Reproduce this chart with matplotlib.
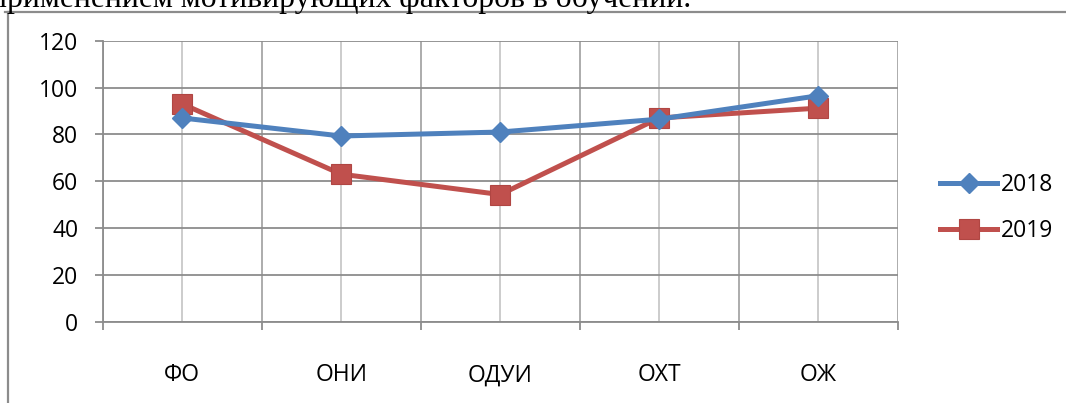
import matplotlib
matplotlib.use("Agg")
import matplotlib.pyplot as plt
from matplotlib.lines import Line2D
from matplotlib.ticker import FixedLocator

plt.rcParams["font.family"] = ["Open Sans", "DejaVu Sans"]

categories = ["ФО", "ОНИ", "ОДУИ", "ОХТ", "ОЖ"]
values_2018 = [87, 79.3, 81, 86.5, 96.5]
values_2019 = [93, 63, 54.3, 87, 91.2]
y_ticks = [0, 20, 40, 60, 80, 100, 120]

blue = "#4f81bd"
red = "#c0504d"
W, H = 1066, 403

fig = plt.figure(figsize=(W / 100, H / 100), dpi=100)

# chart frame (only left and top edges are visible in the crop)
fig.add_artist(Line2D([8.3 / W, 8.3 / W], [0, 1 - 11.7 / H], color="#8c8c8c", lw=1.6))
fig.add_artist(Line2D([5 / W, 1], [1 - 11.7 / H, 1 - 11.7 / H], color="#8c8c8c", lw=1.6))

# cut-off line of body text above the chart
fig.text(-10 / W, 1 - 7 / H, "применением мотивирующих факторов в обучении.",
         family="Liberation Serif", fontsize=22.8, va="baseline", ha="left")

ax = fig.add_axes([102.7 / W, (H - 321.7) / H, 795 / W, 281 / H])
x = list(range(len(categories)))

ax.plot(x, values_2018, color=blue, lw=3.6, marker="D", ms=10,
        mfc=blue, mec=blue, label="2018", zorder=4)
ax.plot(x, values_2019, color=red, lw=3.6, marker="s", ms=14,
        mfc=red, mec="#b04643", mew=0.8, label="2019", zorder=3)

ax.set_xlim(-0.5, len(categories) - 0.5)
ax.set_ylim(0, 120)
ax.set_yticks(y_ticks)
ax.set_xticks(x)
ax.set_xticklabels(categories)
ax.xaxis.set_minor_locator(FixedLocator([i - 0.5 for i in range(len(categories) + 1)]))

ax.tick_params(axis="x", which="major", length=0, pad=30, labelsize=16.5)
ax.tick_params(axis="x", which="minor", length=5.5, width=1.3, color="#8c8c8c", direction="out")
ax.tick_params(axis="y", length=5.5, width=1.3, color="#8c8c8c", pad=12, labelsize=16.5)

ax.grid(axis="y", color="#8c8c8c", lw=1.3)
ax.grid(axis="x", which="minor", color="#a6a6a6", lw=1.3)
ax.grid(axis="x", which="major", color="#c8c8c8", lw=1.3)
ax.set_axisbelow(True)

for side in ["top", "right"]:
    ax.spines[side].set_visible(False)
for side in ["left", "bottom"]:
    ax.spines[side].set_color("#8c8c8c")
    ax.spines[side].set_linewidth(1.3)

ax.legend(loc="center left", bbox_to_anchor=(929 / W, 1 - 208 / H),
          bbox_transform=fig.transFigure, frameon=False, fontsize=16.5,
          handlelength=2.45, handletextpad=0.2, labelspacing=0.95,
          borderpad=0)

fig.savefig("out.png", dpi=100)
